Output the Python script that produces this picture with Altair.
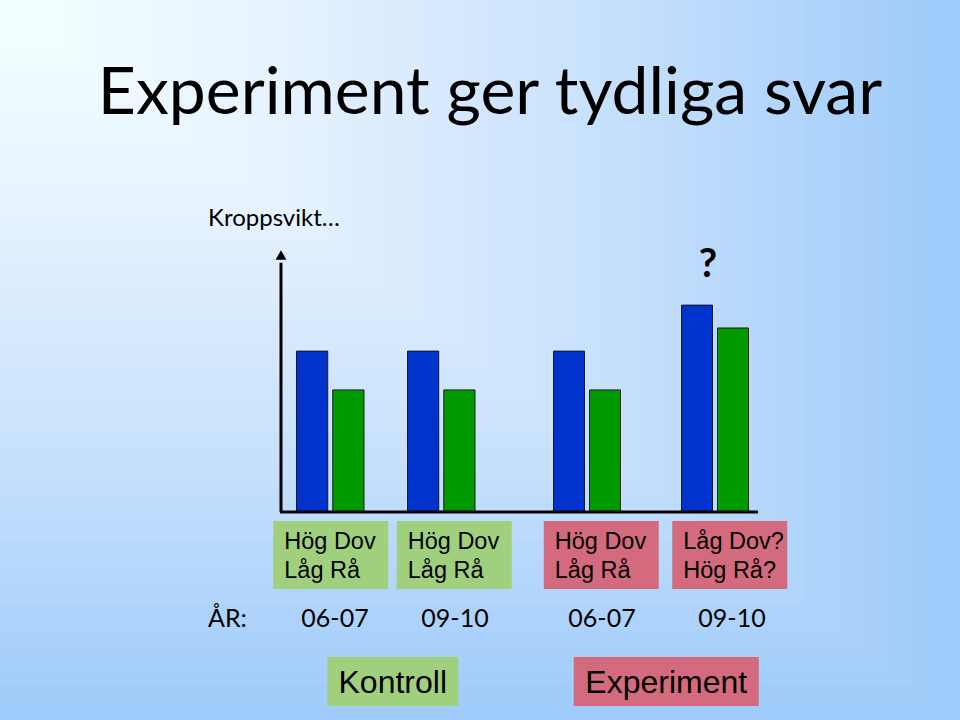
import altair as alt
import pandas as pd

# ---- data ----
titel = "Experiment ger tydliga svar"
y_etikett = "Kroppsvikt…"
grupper = ["Kontroll", "Kontroll", "Experiment", "Experiment"]
ar = ["06-07", "09-10", "06-07", "09-10"]
serier = ["A", "B"]
bla = [62.6, 62.6, 62.6, 80.5]
gron = [47.5, 47.5, 47.5, 71.6]
rad1 = ["Hög Dov", "Hög Dov", "Hög Dov", "Låg Dov?"]
rad2 = ["Låg Rå", "Låg Rå", "Låg Rå", "Hög Rå?"]
grupp_namn = ["Kontroll", "Experiment"]
ar_rubrik = "ÅR:"
fraga = "?"

BLUE, GREEN = "#0033cc", "#009900"
BOX_GREEN, BOX_PINK = "#a0d07e", "#d46a7e"
COMIC = "Lato"
ARIAL = "Liberation Sans"

bars_df = pd.DataFrame({
    "grupp": grupper * 2,
    "år": ar * 2,
    "serie": [serier[0]] * 4 + [serier[1]] * 4,
    "vikt": bla + gron,
})
lab_df = pd.DataFrame({
    "grupp": grupper,
    "år": ar,
    "etikett": [f"{a}\n{b}" for a, b in zip(rad1, rad2)],
})
grp_df = pd.DataFrame({"grupp": grupp_namn})

y_scale = alt.Scale(domain=[0, 100], range=[512, 255])


def ydatum(v):
    return alt.datum(v, scale=y_scale, axis=None)


def band(field, rng):
    return alt.X(f"{field}:N", scale=alt.Scale(type="band", range=rng, paddingInner=0, paddingOuter=0),
                 axis=None, bandPosition=0.5, sort=None)


# background: "from corner" gradient (white top-left -> blue), built from nested rects
N = 80
bg = alt.Chart(alt.sequence(0, N, as_="i")).transform_calculate(
    s=f"1 - datum.i / {N}"
).mark_rect(strokeWidth=0).encode(
    x=alt.X("s:Q", scale=alt.Scale(domain=[0, 1], range=[0, 960]), axis=None),
    x2=alt.value(0),
    y=alt.Y("s:Q", scale=alt.Scale(domain=[0, 1], range=[0, 720]), axis=None),
    y2=alt.value(0),
    color=alt.Color("s:Q", scale=alt.Scale(domain=[0, 0.3, 0.65, 1],
                                           range=["#ffffff", "#e6f2fe", "#c6e0fc", "#9ecbfb"]),
                    legend=None),
)

title = alt.Chart(pd.DataFrame({"t": [titel]})).mark_text(
    font=COMIC, fontSize=66, align="center", baseline="alphabetic", color="black"
).encode(text="t:N", x=alt.value(490), y=alt.value(114))

ylab = alt.Chart(pd.DataFrame({"t": [y_etikett]})).mark_text(
    font=COMIC, fontSize=24, align="left", baseline="alphabetic", color="black"
).encode(text="t:N", x=alt.value(208), y=alt.value(226))


def bar_layer(grp, rng, off_rng):
    return alt.Chart(bars_df[bars_df.grupp == grp]).mark_bar(
        stroke="#1a1a1a", strokeWidth=1
    ).encode(
        x=alt.X("år:N", scale=alt.Scale(type="band", range=rng, paddingInner=0, paddingOuter=0),
                axis=None, sort=None),
        xOffset=alt.XOffset("serie:N", scale=alt.Scale(range=off_rng, paddingInner=5 / 36, paddingOuter=0)),
        y=alt.Y("vikt:Q", scale=y_scale, axis=None),
        color=alt.Color("serie:N", scale=alt.Scale(domain=serier, range=[BLUE, GREEN]), legend=None),
    )


bars_k = bar_layer("Kontroll", [274.5, 496.5], [22, 89.5])
bars_e = bar_layer("Experiment", [523, 779], [30.5, 97.5])

# axes
x_axis = alt.Chart(pd.DataFrame({"a": [0]})).mark_rule(color="black", strokeWidth=3).encode(
    x=alt.value(280), x2=alt.value(758), y=ydatum(0))
y_axis = alt.Chart(pd.DataFrame({"a": [0]})).mark_rule(color="black", strokeWidth=3).encode(
    x=alt.value(281), y=ydatum(0), y2=alt.datum(97))
arrow = alt.Chart(pd.DataFrame({"a": [0]})).mark_point(
    shape="triangle-up", filled=True, color="black", size=120, opacity=1
).encode(x=alt.value(281), y=ydatum(100))

q = alt.Chart(pd.DataFrame({"t": [fraga]})).mark_text(
    font=COMIC, fontSize=40, fontWeight="bold", align="center", baseline="alphabetic", color="black"
).encode(text="t:N", x=alt.value(708), y=alt.value(277))


def label_layer(grp, rng, color):
    d = lab_df[lab_df.grupp == grp]
    box = alt.Chart(d).mark_bar(color=color, width=115).encode(
        x=alt.X("år:N", scale=alt.Scale(type="band", range=rng, paddingInner=0, paddingOuter=0),
                axis=None, sort=None),
        y=alt.value(521), y2=alt.value(589))
    txt = alt.Chart(d).mark_text(
        font=ARIAL, fontSize=23.5, align="left", baseline="middle", lineBreak="\n", lineHeight=29,
        dx=-46.5, color="black"
    ).encode(x=band("år", rng), y=alt.value(542), text="etikett:N")
    return alt.layer(box, txt)


lab_k = label_layer("Kontroll", [269, 516], BOX_GREEN)
lab_e = label_layer("Experiment", [537, 794], BOX_PINK)


def year_layer(grp, rng):
    d = lab_df[lab_df.grupp == grp]
    return alt.Chart(d).mark_text(
        font=COMIC, fontSize=25, align="center", baseline="alphabetic", color="black"
    ).encode(x=band("år", rng), y=alt.value(627), text="år:N")


yr_k = year_layer("Kontroll", [275, 515])
yr_e = year_layer("Experiment", [537, 797])

ar_txt = alt.Chart(pd.DataFrame({"t": [ar_rubrik]})).mark_text(
    font=COMIC, fontSize=25, align="left", baseline="alphabetic", color="black"
).encode(text="t:N", x=alt.value(208), y=alt.value(627))

# bottom group boxes
gx = lambda: alt.X("grupp:N", scale=alt.Scale(type="band", range=[256, 803], paddingInner=0, paddingOuter=0),
                   axis=None, sort=None)
gbox_k = alt.Chart(grp_df[grp_df.grupp == "Kontroll"]).mark_bar(color=BOX_GREEN, width=131).encode(
    x=gx(), y=alt.value(657), y2=alt.value(706))
gbox_e = alt.Chart(grp_df[grp_df.grupp == "Experiment"]).mark_bar(color=BOX_PINK, width=185).encode(
    x=gx(), y=alt.value(657), y2=alt.value(706))
gtxt = alt.Chart(grp_df).mark_text(
    font=ARIAL, fontSize=32, align="center", baseline="middle", color="black"
).encode(x=alt.X("grupp:N", scale=alt.Scale(type="band", range=[256, 803], paddingInner=0, paddingOuter=0),
                 axis=None, sort=None, bandPosition=0.5),
         y=alt.value(683), text="grupp:N")
groups = alt.layer(gbox_k, gbox_e, gtxt)

chart = alt.layer(
    bg, title, ylab, bars_k, bars_e, x_axis, y_axis, arrow, q,
    lab_k, lab_e, yr_k, yr_e, ar_txt, groups
).resolve_scale(
    x="independent", xOffset="independent", y="independent", color="independent"
).properties(
    width=960, height=720, autosize=alt.AutoSizeParams(type="none"), padding=0
).configure_view(stroke=None)

chart.save("out.html", embed_options={"renderer": "svg", "actions": False})
